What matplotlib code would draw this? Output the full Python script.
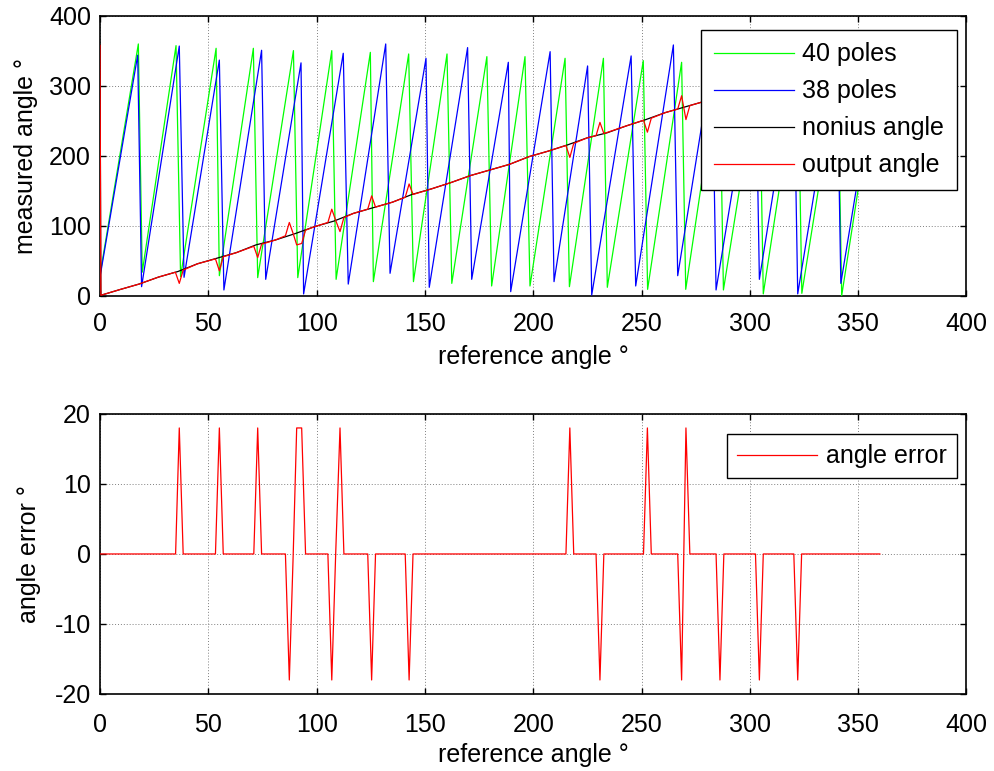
import matplotlib
matplotlib.use('Agg')
import matplotlib.pyplot as plt

plt.rcParams['font.family'] = ['Liberation Sans', 'DejaVu Sans']
plt.rcParams['axes.unicode_minus'] = False

# 40 poles sawtooth, vertices (trough -> peak -> trough ...)
g_x = [0, 17.7, 19.5, 35.1, 37.2, 53.6, 55.1, 70.8, 72.8, 89.3, 91.3, 107, 109, 124.8, 126.2,
       142.5, 144.7, 160.2, 162.4, 178.6, 180.8, 196.2, 198.5, 214.7, 216.7, 232.4, 234.2,
       250.8, 252.8, 268.5, 270.4, 286, 287.8, 304.4, 306.2, 322.2, 324, 340.6, 342.4, 360]
g_y = [30, 360, 34, 357.6, 27.6, 353.8, 29, 353.8, 26.2, 350.5, 26.2, 350.5, 23.8, 348, 20.5,
       345.7, 20.5, 345.7, 18, 341.9, 14.3, 341.9, 14.3, 339.5, 13.3, 339.5, 12.4,
       336.2, 9.5, 333.8, 9.5, 333, 8.6, 330, 3, 328, 3.8, 326, 0.5, 352]

# 38 poles sawtooth
b_x = [0, 17.4, 19.2, 36.6, 38.8, 55.1, 57.2, 74.6, 76.5, 92.8, 94.0, 112.3, 114.6, 131.9, 133.9,
       150.5, 152.0, 169.7, 171.6, 188.5, 189.6, 207.8, 209.6, 225.1, 227.0, 245.2, 247.3,
       264.7, 266.7, 282.6, 284.4, 302.6, 304.4, 320.3, 322.1, 340.2, 342.0, 360]
b_y = [27, 344, 13.3, 357, 26.7, 337, 8.6, 351, 23.8, 333, 2.9, 346.7, 17, 360, 32.4,
       339.5, 12.4, 354.8, 23.8, 333.8, 6.2, 349, 20.5, 328.6, 1.4, 342.9, 14.3,
       358.6, 29, 337, 8.6, 352, 23.8, 332, 3, 347, 18, 358]

# nonius angle
n_x = [0, 0.4, 9, 18, 27, 36, 45, 54, 63, 72, 81, 90, 99, 108, 117, 126, 135, 144, 153, 162,
       171, 180, 189, 198, 207, 216, 225, 234, 243, 252, 261, 270, 279, 288, 297, 306, 315,
       324, 333, 342, 351, 360]
n_y = [358, 1, 9, 17, 27, 35, 46, 54, 62, 73, 80, 89, 99, 107, 118, 126, 134, 145, 153, 162,
       172, 180, 188, 199, 207, 216, 226, 233, 243, 252, 262, 270, 278, 288, 297, 305, 315,
       324, 332, 342, 351, 359]

# output angle
o_x = [0, 0.4, 9, 18, 27, 34.8, 36.6, 38.4, 45, 53.3, 55.1, 56.9, 63, 71, 72.8, 74.6, 81,
       85.6, 87.4, 89.2, 90.8, 93.1, 94.9, 99, 105.2, 107, 108.8, 110.8, 112.6, 117, 123.6,
       125.4, 127.2, 135, 140.9, 142.7, 144.5, 153, 162, 171, 180, 189, 198, 207, 215.1,
       216.9, 218.7, 225, 229, 230.8, 232.6, 243, 250.9, 252.7, 254.5, 261, 266.7, 268.5,
       270.5, 272.3, 279, 284.4, 286.2, 288, 297, 302.6, 304.4, 306.2, 315, 320.3, 322.1,
       323.9, 333, 342, 351, 360]
o_y = [358, 1, 9, 17, 27, 34, 18, 37, 46, 53, 36, 56, 62, 71, 55, 74, 80,
       86, 105, 89, 73, 75, 94, 99, 105, 124, 108, 92, 112, 118, 124,
       143, 127, 134, 141, 160, 145, 153, 162, 172, 180, 188, 199, 207, 215,
       198, 218, 226, 229, 248, 232, 243, 251, 234, 254, 262, 267, 286,
       252, 272, 278, 284, 304, 288, 297, 302, 322, 305, 315, 320, 340,
       324, 332, 342, 351, 359]

# angle error
e_x = [0, 34.9, 36.6, 38.4, 53.3, 55.1, 56.9, 71, 72.8, 74.6, 85.6, 87.4, 89.2, 90.8, 93.1,
       94.9, 105.2, 107, 108.8, 110.8, 112.6, 123.6, 125.4, 127.2, 140.9, 142.7, 144.5,
       215.1, 216.9, 218.7, 229, 230.8, 232.6, 250.9, 252.7, 254.5, 266.7, 268.5, 270.5,
       272.3, 284.4, 286.2, 288, 302.6, 304.4, 306.2, 320.3, 322.1, 323.9, 360]
e_y = [0, 0, 18, 0, 0, 18, 0, 0, 18, 0, 0, -18, 0, 18, 18,
       0, 0, -18, 0, 18, 0, 0, -18, 0, 0, -18, 0,
       0, 18, 0, 0, -18, 0, 0, 18, 0, 0, -18, 18,
       0, 0, -18, 0, 0, -18, 0, 0, -18, 0, 0]


def style(ax, xpad):
    ax.grid(True, color='#808080', linestyle=(0, (1, 2)), linewidth=0.7)
    ax.set_axisbelow(True)
    ax.tick_params(direction='in', top=True, right=True, length=4, width=1,
                   labelsize=18, colors='black')
    ax.tick_params(axis='x', pad=xpad)
    ax.tick_params(axis='y', pad=6.5)
    for s in ax.spines.values():
        s.set_linewidth(1.2)
    ax.set_xlim(0, 400)
    ax.set_xticks(range(0, 401, 50))


fig = plt.figure(figsize=(9.94, 7.71), dpi=100)
ax1 = fig.add_axes([0.1006, 0.6161, 0.8717, 0.3632])
ax2 = fig.add_axes([0.1006, 0.0999, 0.8717, 0.3632])

lw = 0.9
ax1.plot(g_x, g_y, color=(0, 1, 0), lw=lw, label='40 poles', zorder=3)
ax1.plot(b_x, b_y, color=(0, 0, 1), lw=lw, label='38 poles', zorder=3)
ax1.plot(n_x, n_y, color='black', lw=lw, label='nonius angle', zorder=3)
ax1.plot(o_x, o_y, color=(1, 0, 0), lw=lw, label='output angle', zorder=3)
style(ax1, 11.5)
ax1.set_ylim(0, 400)
ax1.set_yticks(range(0, 401, 100))
ax1.set_xlabel('reference angle °', fontsize=18)
ax1.set_ylabel('measured angle °', fontsize=18)
ax1.xaxis.set_label_coords(0.5, -0.175)
ax1.yaxis.set_label_coords(-0.072, 0.5)
leg1 = ax1.legend(loc='upper right', bbox_to_anchor=(0.9888, 0.95), borderaxespad=0,
                  fontsize=18, handlelength=3.2, handletextpad=0.35, borderpad=0.5,
                  labelspacing=0.52, fancybox=False, framealpha=1, edgecolor='black')
leg1.get_frame().set_linewidth(1.0)

ax2.plot(e_x, e_y, color=(1, 0, 0), lw=lw, label='angle error', zorder=3)
style(ax2, 14)
ax2.set_ylim(-20, 20)
ax2.set_yticks(range(-20, 21, 10))
ax2.set_xlabel('reference angle °', fontsize=18)
ax2.set_ylabel('angle error °', fontsize=18)
ax2.xaxis.set_label_coords(0.5, -0.175)
ax2.yaxis.set_label_coords(-0.068, 0.5)
leg2 = ax2.legend(loc='upper right', bbox_to_anchor=(0.9888, 0.927), borderaxespad=0,
                  fontsize=18, handlelength=3.2, handletextpad=0.35, borderpad=0.4,
                  fancybox=False, framealpha=1, edgecolor='black')
leg2.get_frame().set_linewidth(1.0)

fig.savefig('out.png', dpi=100)
